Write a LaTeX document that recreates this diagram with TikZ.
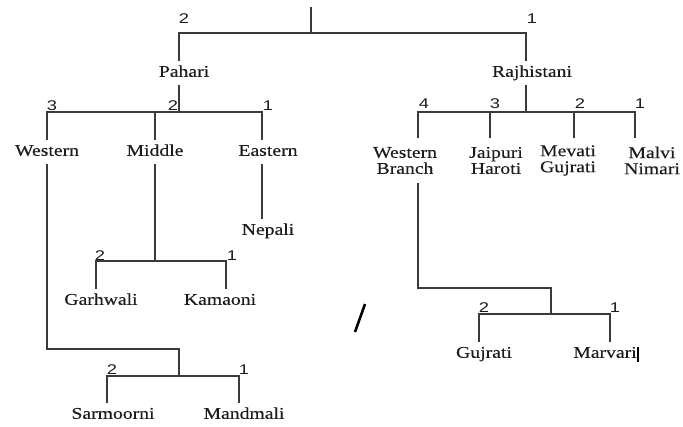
\documentclass[tikz,border=0pt]{standalone}
\usepackage{fontspec}
\setmainfont{Liberation Serif}[FakeStretch=1.2, FakeBold=0.3]
\newfontfamily\numfont{Liberation Sans}[FakeStretch=1.3]
\usetikzlibrary{positioning}

\definecolor{linegray}{HTML}{3A3A3A}
\definecolor{textdark}{HTML}{1C1C1C}

\tikzset{
  lang/.style={inner xsep=0pt, inner ysep=5.5pt, text height=0.75em, text depth=0.1em,
    font=\fontsize{14}{16}\selectfont, text=textdark},
  langtwo/.style={inner sep=0pt, minimum height=1.35cm, align=center,
    font=\fontsize{14}{13.7}\selectfont, text=textdark},
  num/.style={inner sep=0pt, font=\numfont\fontsize{12}{14}\selectfont, text=textdark},
  branch/.style={draw=linegray, line width=1.1pt},
}

\begin{document}
\begin{tikzpicture}[x=0.03cm, y=-0.03cm]
  \useasboundingbox (0,0) rectangle (683,427);

  % first split
  \coordinate (root) at (311,7);
  \coordinate (t1) at (179,33);
  \coordinate (t2) at (526,33);
  \node[lang] (pahari) at (184,73) {Pahari};
  \node[lang] (rajhistani) at (532,73) {Rajhistani};
  \node[num] (npahari) at (184,19) {2};
  \node[num] (nrajh) at (532,19) {1};
  \draw[branch] (root) -- (root |- t1);
  \draw[branch] (pahari.north -| t1) -- (t1) -- (t2) -- (rajhistani.north -| t2);

  % Pahari and its three branches
  \coordinate (pb) at (179,112);
  \coordinate (pw) at (47,112);
  \coordinate (pm) at (155,112);
  \coordinate (pe) at (262,112);
  \node[lang] (western) at (47,152) {Western};
  \node[lang] (middle) at (155,152) {Middle};
  \node[lang] (eastern) at (268,152) {Eastern};
  \node[num] (nwestern) at (52,106) {3};
  \node[num] (nmiddle) at (173,106) {2};
  \node[num] (neastern) at (268,106) {1};
  \draw[branch] (pahari.south -| pb) -- (pb);
  \draw[branch] (western.north -| pw) -- (pw) -- (pe) -- (eastern.north -| pe);
  \draw[branch] (middle.north -| pm) -- (pm);

  % Eastern
  \node[lang] (nepali) at (268,231) {Nepali};
  \draw[branch] (eastern.south -| pe) -- (nepali.north -| pe);

  % Middle
  \coordinate (mb) at (155,261);
  \coordinate (ml) at (96,261);
  \coordinate (mr) at (226,261);
  \node[lang] (garhwali) at (101,301) {Garhwali};
  \node[lang] (kamaoni) at (220,301) {Kamaoni};
  \node[num] (ngarhwali) at (100,256) {2};
  \node[num] (nkamaoni) at (232,256) {1};
  \draw[branch] (middle.south -| mb) -- (mb);
  \draw[branch] (garhwali.north -| ml) -- (ml) -- (mr) -- (kamaoni.north -| mr);

  % Western
  \coordinate (wj) at (47,349);
  \coordinate (wk) at (179,349);
  \coordinate (sb) at (179,376);
  \coordinate (sl) at (107,376);
  \coordinate (sr) at (239,376);
  \node[lang] (sarmoorni) at (113,415) {Sarmoorni};
  \node[lang] (mandmali) at (244,415) {Mandmali};
  \node[num] (nsarmoorni) at (112,370) {2};
  \node[num] (nmandmali) at (244,370) {1};
  \draw[branch] (western.south -| wj) -- (wj) -- (wk) -- (sb);
  \draw[branch] (sarmoorni.north -| sl) -- (sl) -- (sr) -- (mandmali.north -| sr);

  % Rajhistani and its four branches
  \coordinate (rb) at (526,112);
  \coordinate (r1) at (418,112);
  \coordinate (r2) at (490,112);
  \coordinate (r3) at (574,112);
  \coordinate (r4) at (635,112);
  \node[langtwo] (wbranch) at (405,160.5) {Western\\Branch};
  \node[langtwo] (jaipuri) at (496,160.5) {Jaipuri\\Haroti};
  \node[langtwo] (mevati) at (568,160.5) {Mevati\\Gujrati};
  \node[langtwo] (malvi) at (652,160.5) {Malvi\\Nimari};
  \node[num] (nwbranch) at (424,104) {4};
  \node[num] (njaipuri) at (495,104) {3};
  \node[num] (nmevati) at (580,104) {2};
  \node[num] (nmalvi) at (640,104) {1};
  \draw[branch] (rajhistani.south -| rb) -- (rb);
  \draw[branch] (wbranch.north -| r1) -- (r1) -- (r4) -- (malvi.north -| r4);
  \foreach \c/\n in {r2/jaipuri, r3/mevati}
    \draw[branch] (\n.north -| \c) -- (\c);

  % Western Branch
  \coordinate (gj) at (418,288);
  \coordinate (gk) at (551,288);
  \coordinate (gb) at (551,314);
  \coordinate (gl) at (479,314);
  \coordinate (gr) at (610,314);
  \node[lang] (gujrati) at (484,354) {Gujrati};
  \node[lang] (marvari) at (605,354) {Marvari};
  \node[num] (ngujrati) at (484,308) {2};
  \node[num] (nmarvari) at (615,308) {1};
  \draw[branch] (wbranch.south -| gj) -- (gj) -- (gk) -- (gb);
  \draw[branch] (gujrati.north -| gl) -- (gl) -- (gr) -- (marvari.north -| gr);

  % stray marks
  \draw[line width=2.2pt, black] (365,304) -- (355,332);
  \draw[line width=1.5pt, black] (638,347) -- (638,362);
\end{tikzpicture}
\end{document}
